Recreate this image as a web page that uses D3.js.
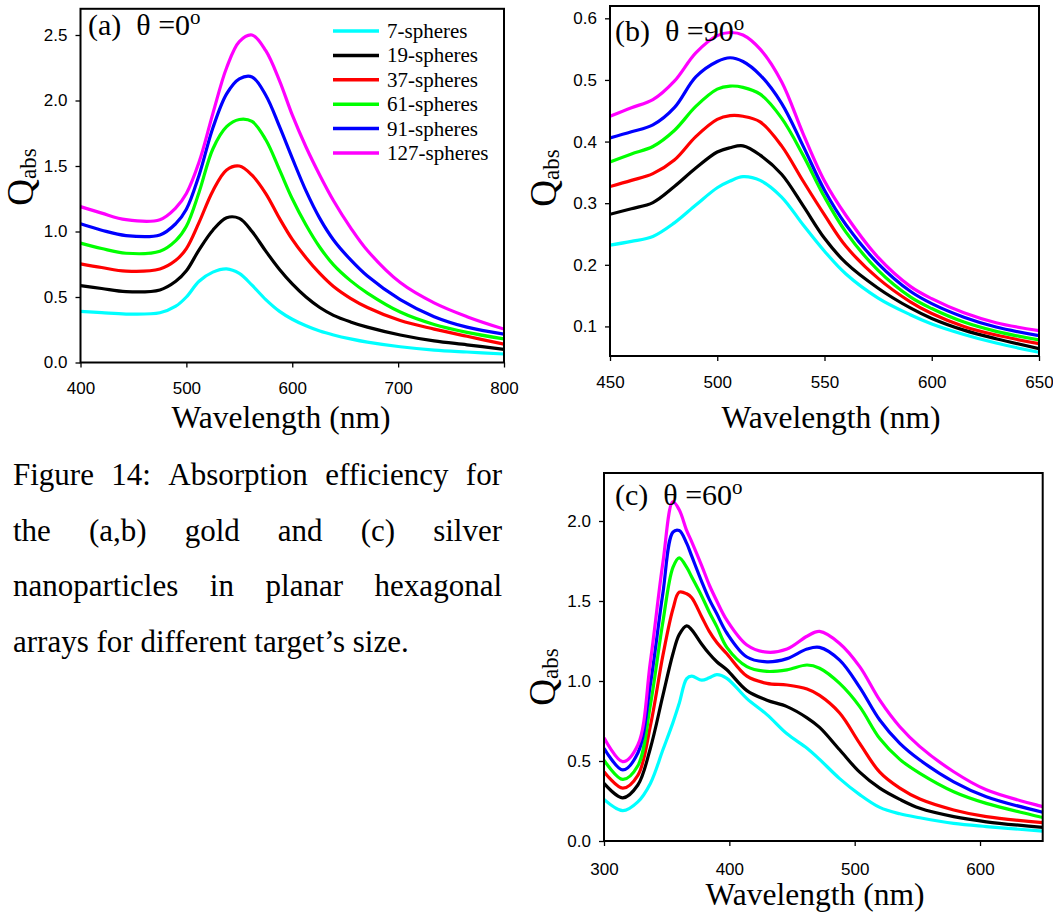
<!DOCTYPE html>
<html>
<head>
<meta charset="utf-8">
<script src="https://cdn.jsdelivr.net/npm/d3@7"></script>
<style>
  body { margin: 0; background: #fff; }
  svg { display: block; }
  .tick text { font-family: "Liberation Sans", Arial, sans-serif; font-size: 17px; fill: #000; }
  .tick line { stroke: #000; stroke-width: 1.3; }
  .serif { font-family: "Liberation Serif", "Times New Roman", serif; fill: #000; }
</style>
</head>
<body>
<svg width="1053" height="913"></svg>
<script>
const sizes = ['7-spheres', '19-spheres', '37-spheres', '61-spheres', '91-spheres', '127-spheres'];
const colors = ['#00ffff', '#000000', '#ff0000', '#00ff00', '#0000ff', '#ff00ff'];

// (a) gold, theta = 0
const wlA = [400, 420, 443, 475, 490, 500, 512, 525, 538, 550, 562, 575, 588, 600, 613, 626, 639, 655, 671, 702, 734, 765, 800];
const a7   = [0.39, 0.38, 0.37, 0.38, 0.43, 0.50, 0.62, 0.69, 0.715, 0.68, 0.59, 0.48, 0.39, 0.33, 0.28, 0.24, 0.21, 0.18, 0.155, 0.12, 0.095, 0.08, 0.065];
const a19  = [0.587, 0.565, 0.541, 0.554, 0.62, 0.70, 0.86, 1.01, 1.105, 1.10, 1.00, 0.85, 0.71, 0.60, 0.50, 0.42, 0.36, 0.31, 0.27, 0.21, 0.165, 0.135, 0.10];
const a37  = [0.753, 0.725, 0.698, 0.714, 0.78, 0.87, 1.07, 1.31, 1.47, 1.50, 1.43, 1.29, 1.10, 0.94, 0.80, 0.68, 0.58, 0.49, 0.42, 0.32, 0.255, 0.20, 0.14];
const a61  = [0.911, 0.87, 0.834, 0.849, 0.93, 1.04, 1.30, 1.63, 1.80, 1.855, 1.84, 1.70, 1.47, 1.25, 1.05, 0.88, 0.745, 0.625, 0.53, 0.385, 0.29, 0.23, 0.18];
const a91  = [1.059, 1.01, 0.969, 0.974, 1.06, 1.17, 1.43, 1.79, 2.05, 2.165, 2.18, 2.04, 1.80, 1.56, 1.31, 1.10, 0.935, 0.785, 0.66, 0.48, 0.35, 0.27, 0.217];
const a127 = [1.19, 1.14, 1.09, 1.09, 1.18, 1.29, 1.53, 1.90, 2.25, 2.45, 2.50, 2.38, 2.15, 1.89, 1.645, 1.43, 1.235, 1.03, 0.855, 0.61, 0.455, 0.35, 0.255];

// (b) gold, theta = 90
const wlB = [450, 460, 470, 480, 490, 500, 506, 512, 520, 530, 540, 550, 560, 575, 590, 600, 615, 630, 650];
const b7   = [0.232, 0.238, 0.246, 0.268, 0.297, 0.325, 0.336, 0.343, 0.337, 0.31, 0.265, 0.222, 0.185, 0.146, 0.119, 0.104, 0.087, 0.073, 0.058];
const b19  = [0.282, 0.291, 0.301, 0.327, 0.357, 0.383, 0.39, 0.393, 0.378, 0.347, 0.296, 0.243, 0.203, 0.162, 0.13, 0.113, 0.094, 0.08, 0.064];
const b37  = [0.327, 0.337, 0.348, 0.37, 0.408, 0.436, 0.442, 0.441, 0.432, 0.393, 0.336, 0.281, 0.23, 0.178, 0.14, 0.121, 0.10, 0.086, 0.072];
const b61  = [0.367, 0.38, 0.392, 0.418, 0.457, 0.485, 0.49, 0.488, 0.477, 0.438, 0.378, 0.31, 0.253, 0.191, 0.148, 0.129, 0.107, 0.092, 0.078];
const b91  = [0.406, 0.416, 0.427, 0.455, 0.505, 0.53, 0.536, 0.53, 0.508, 0.462, 0.393, 0.321, 0.265, 0.202, 0.157, 0.137, 0.115, 0.099, 0.085];
const b127 = [0.441, 0.455, 0.468, 0.498, 0.544, 0.572, 0.577, 0.573, 0.55, 0.497, 0.413, 0.336, 0.28, 0.212, 0.165, 0.145, 0.122, 0.106, 0.093];

// (c) silver, theta = 60
const wlC = [300, 315, 327, 337, 347, 355, 360, 366, 370, 378, 384, 390, 398, 414, 430, 446, 462, 472, 488, 504, 520, 536, 552, 579, 605, 650];
const c7   = [0.26, 0.19, 0.245, 0.36, 0.57, 0.74, 0.86, 1.015, 1.03, 1.005, 1.02, 1.04, 1.017, 0.89, 0.79, 0.67, 0.58, 0.51, 0.39, 0.29, 0.21, 0.17, 0.145, 0.11, 0.09, 0.062];
const c19  = [0.36, 0.27, 0.35, 0.58, 0.91, 1.17, 1.29, 1.345, 1.32, 1.23, 1.17, 1.12, 1.07, 0.94, 0.88, 0.84, 0.77, 0.71, 0.57, 0.43, 0.33, 0.26, 0.204, 0.152, 0.12, 0.085];
const c37  = [0.433, 0.33, 0.41, 0.72, 1.16, 1.45, 1.555, 1.545, 1.52, 1.40, 1.31, 1.24, 1.17, 1.03, 0.985, 0.975, 0.95, 0.91, 0.80, 0.61, 0.43, 0.33, 0.262, 0.194, 0.152, 0.115];
const c61  = [0.506, 0.385, 0.47, 0.85, 1.37, 1.71, 1.77, 1.71, 1.65, 1.53, 1.43, 1.34, 1.21, 1.09, 1.06, 1.07, 1.10, 1.08, 0.985, 0.84, 0.64, 0.51, 0.423, 0.308, 0.235, 0.148];
const c91  = [0.58, 0.444, 0.55, 0.98, 1.55, 1.93, 1.94, 1.86, 1.78, 1.62, 1.51, 1.42, 1.30, 1.15, 1.12, 1.14, 1.20, 1.21, 1.13, 0.96, 0.756, 0.61, 0.506, 0.37, 0.277, 0.18];
const c127 = [0.646, 0.496, 0.60, 1.12, 1.74, 2.12, 2.07, 1.94, 1.87, 1.72, 1.60, 1.50, 1.38, 1.225, 1.18, 1.20, 1.28, 1.31, 1.235, 1.09, 0.88, 0.714, 0.59, 0.433, 0.32, 0.215];

const captionLines = [
    'Figure 14: Absorption efficiency for',
    'the (a,b) gold and (c) silver',
    'nanoparticles in planar hexagonal',
    'arrays for different target\u2019s size.'
];

const svg = d3.select('svg');

function drawPanel(cfg) {
    const x = d3.scaleLinear().domain(cfg.xDomain).range([cfg.left, cfg.right]);
    const y = d3.scaleLinear().domain(cfg.yDomain).range([cfg.bottom, cfg.top]);
    const g = svg.append('g');

    g.append('clipPath').attr('id', 'clip-' + cfg.id)
        .append('rect')
        .attr('x', cfg.left).attr('y', cfg.top)
        .attr('width', cfg.right - cfg.left).attr('height', cfg.bottom - cfg.top);

    g.append('g')
        .attr('transform', `translate(0,${cfg.bottom})`)
        .call(d3.axisBottom(x).tickValues(cfg.xTicks).tickSize(5).tickPadding(cfg.xPad).tickFormat(d3.format('d')))
        .call(a => a.select('.domain').remove());

    g.append('g')
        .attr('transform', `translate(${cfg.left},0)`)
        .call(d3.axisLeft(y).tickValues(cfg.yTicks).tickSize(5).tickPadding(8).tickFormat(d3.format('.1f')))
        .call(a => a.select('.domain').remove());

    // smooth curve through the read-off points
    const line = d3.line()
        .x((d, i) => x(cfg.wl[i]))
        .y(d => y(d))
        .curve(d3.curveCatmullRom.alpha(0.5));

    g.append('g')
        .attr('clip-path', `url(#clip-${cfg.id})`)
        .selectAll('.curve')
        .data(cfg.series)
        .enter()
        .append('path')
        .classed('curve', true)
        .attr('d', line)
        .attr('fill', 'none')
        .attr('stroke', (d, i) => colors[i])
        .attr('stroke-width', 3.2)
        .attr('stroke-linejoin', 'round');

    // box round the plot
    g.append('rect')
        .attr('x', cfg.left).attr('y', cfg.top)
        .attr('width', cfg.right - cfg.left).attr('height', cfg.bottom - cfg.top)
        .attr('fill', 'none').attr('stroke', '#000').attr('stroke-width', 2);

    // panel label
    const lab = g.append('text').classed('serif', true)
        .attr('x', cfg.labelX).attr('y', cfg.labelY)
        .attr('font-size', 30)
        .style('white-space', 'pre');
    lab.append('tspan').text(cfg.label);
    lab.append('tspan').attr('font-size', 21).attr('dy', -11).text('o');

    // axis titles
    g.append('text').classed('serif', true)
        .attr('x', cfg.xTitleX).attr('y', cfg.xTitleY)
        .attr('text-anchor', 'middle')
        .attr('font-size', 31.5)
        .text('Wavelength (nm)');

    const q = g.append('text').classed('serif', true)
        .attr('transform', `translate(${cfg.qX},${cfg.qY}) rotate(-90)`)
        .attr('text-anchor', 'middle');
    q.append('tspan').attr('font-size', 37).text('Q');
    q.append('tspan').attr('font-size', 23).attr('dy', 3).text('abs');

    return g;
}

const gA = drawPanel({
    id: 'a', wl: wlA, series: [a7, a19, a37, a61, a91, a127],
    xDomain: [400, 800], yDomain: [0, 2.7],
    left: 80.5, right: 504, top: 8.8, bottom: 362.5,
    xTicks: [400, 500, 600, 700, 800], yTicks: [0, 0.5, 1, 1.5, 2, 2.5], xPad: 14,
    label: '(a)  \u03b8 =0', labelX: 88, labelY: 35,
    xTitleX: 281, xTitleY: 428, qX: 33, qY: 177
});

drawPanel({
    id: 'b', wl: wlB, series: [b7, b19, b37, b61, b91, b127],
    xDomain: [450, 650], yDomain: [0.052, 0.62],
    left: 610, right: 1039, top: 6, bottom: 356,
    xTicks: [450, 500, 550, 600, 650], yTicks: [0.1, 0.2, 0.3, 0.4, 0.5, 0.6], xPad: 15,
    label: '(b)  \u03b8 =90', labelX: 615, labelY: 41,
    xTitleX: 831, xTitleY: 428, qX: 556, qY: 178
});

drawPanel({
    id: 'c', wl: wlC, series: [c7, c19, c37, c61, c91, c127],
    xDomain: [300, 650], yDomain: [0, 2.3],
    left: 604, right: 1042.7, top: 473, bottom: 841,
    xTicks: [300, 400, 500, 600], yTicks: [0, 0.5, 1, 1.5, 2], xPad: 17,
    label: '(c)  \u03b8 =60', labelX: 615, labelY: 505,
    xTitleX: 815, xTitleY: 905, qX: 555, qY: 677
});

// legend in panel (a)
const legend = gA.selectAll('.legend')
    .data(sizes)
    .enter()
    .append('g')
    .classed('legend', true)
    .attr('transform', (d, i) => `translate(333,${31 + i * 24.4})`);
legend.append('line')
    .attr('x1', 0).attr('x2', 46)
    .attr('stroke', (d, i) => colors[i])
    .attr('stroke-width', 3.5);
legend.append('text').classed('serif', true)
    .attr('x', 54).attr('y', 7)
    .attr('font-size', 21)
    .text(d => d);

// caption, justified like the source text block
const capLeft = 13, capRight = 502;
const capBase = [485, 540.5, 596, 651.5];
captionLines.forEach((txt, li) => {
    const t = svg.append('text').classed('serif', true)
        .attr('y', capBase[li])
        .attr('font-size', 31);
    const words = txt.split(' ');
    const spans = words.map(w => t.append('tspan').text(w));
    const widths = spans.map(s => s.node().getComputedTextLength());
    const total = d3.sum(widths);
    const last = li === captionLines.length - 1;
    const gap = last ? 7.75 : (capRight - capLeft - total) / (words.length - 1);
    let xPos = capLeft;
    spans.forEach((s, i) => {
        s.attr('x', xPos);
        xPos += widths[i] + gap;
    });
});
</script>
</body>
</html>
